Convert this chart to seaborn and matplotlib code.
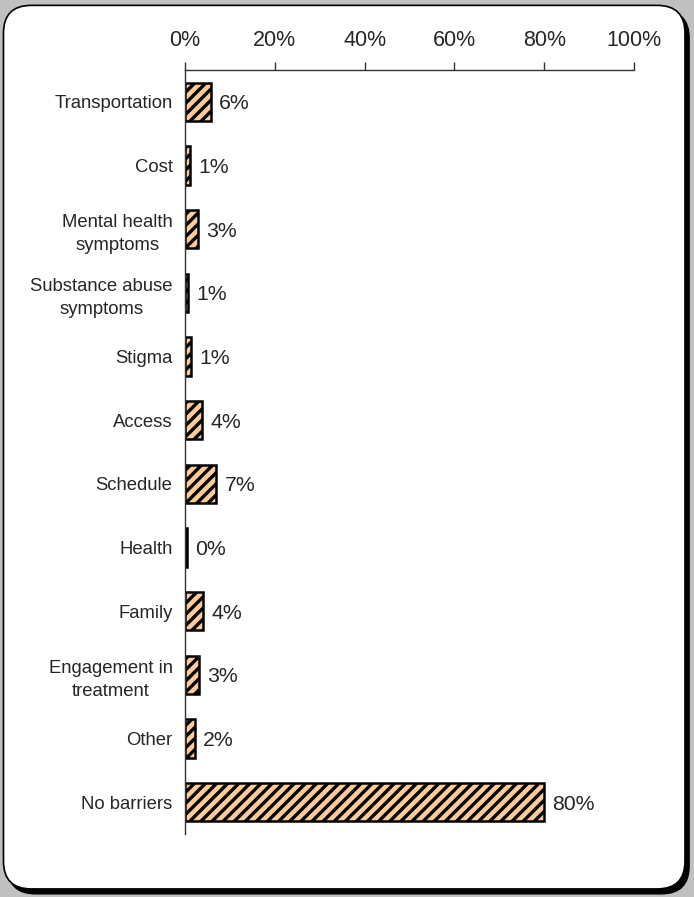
import matplotlib
matplotlib.use("Agg")
import matplotlib.pyplot as plt
import seaborn as sns
import pandas as pd
from matplotlib.patches import FancyBboxPatch
from matplotlib.ticker import FixedLocator, PercentFormatter

# data
categories = ["Transportation", "Cost", "Mental health\nsymptoms", "Substance abuse\nsymptoms",
              "Stigma", "Access", "Schedule", "Health", "Family", "Engagement in\ntreatment",
              "Other", "No barriers"]
values = [5.8, 1.2, 2.8, 0.7, 1.4, 3.8, 7.0, 0.4, 4.0, 3.2, 2.2, 80.0]
labels = ["6%", "1%", "3%", "1%", "1%", "4%", "7%", "0%", "4%", "3%", "2%", "80%"]
x_ticks = [0, 20, 40, 60, 80, 100]

df = pd.DataFrame({"Barrier": categories, "Percent": values})

sns.set_style("white")
plt.rcParams["font.family"] = ["Liberation Sans", "DejaVu Sans"]
plt.rcParams["hatch.linewidth"] = 2.4

fig = plt.figure(figsize=(6.94, 8.97), dpi=100)
fig.patch.set_facecolor("#c0c0c0")

# rounded frame with shadow, kept behind the axes
shadow = FancyBboxPatch((0.011, 0.0035), 0.982, 0.985, boxstyle="round,pad=0,rounding_size=0.04",
                        transform=fig.transFigure, facecolor="black", edgecolor="black",
                        mutation_aspect=694 / 897, zorder=-2)
box = FancyBboxPatch((0.005, 0.009), 0.982, 0.985, boxstyle="round,pad=0,rounding_size=0.04",
                     transform=fig.transFigure, facecolor="white", edgecolor="black", linewidth=1.2,
                     mutation_aspect=694 / 897, zorder=-1)
fig.patches.extend([shadow, box])

ax = fig.add_axes([0.2666, 0.0702, 0.6469, 0.8518])
ax.set_facecolor("none")
sns.barplot(data=df, x="Percent", y="Barrier", orient="h", color="#ffcc99", width=0.6,
            edgecolor="black", linewidth=1.8, saturation=1, ax=ax)
for p in ax.patches:
    p.set_hatch("///")

for i, (v, t) in enumerate(zip(values, labels)):
    ax.text(v + 1.8, i + 0.03, t, va="center", ha="left", fontsize=15.3)

ax.set_xlim(0, 100)
ax.set_ylim(11.5, -0.5)
ax.xaxis.tick_top()
ax.set_xticks(x_ticks)
ax.xaxis.set_major_formatter(PercentFormatter(decimals=0))
ax.tick_params(axis="x", labelsize=15.5, length=6, width=1, color="#333333", direction="out", pad=8)
ax.tick_params(axis="y", which="major", length=0, labelsize=13.3, pad=9)
ax.yaxis.set_minor_locator(FixedLocator([i - 0.5 for i in range(13)]))
ax.tick_params(axis="y", which="minor", length=6, width=1, color="#333333", direction="out")
for lab in ax.get_yticklabels():
    lab.set_multialignment("center")
    lab.set_linespacing(1.45)

ax.set_xlabel("")
ax.set_ylabel("")
for s in ["right", "bottom"]:
    ax.spines[s].set_visible(False)
for s in ["top", "left"]:
    ax.spines[s].set_color("#333333")
    ax.spines[s].set_linewidth(1)

fig.savefig("out.png", dpi=100, facecolor=fig.get_facecolor())
